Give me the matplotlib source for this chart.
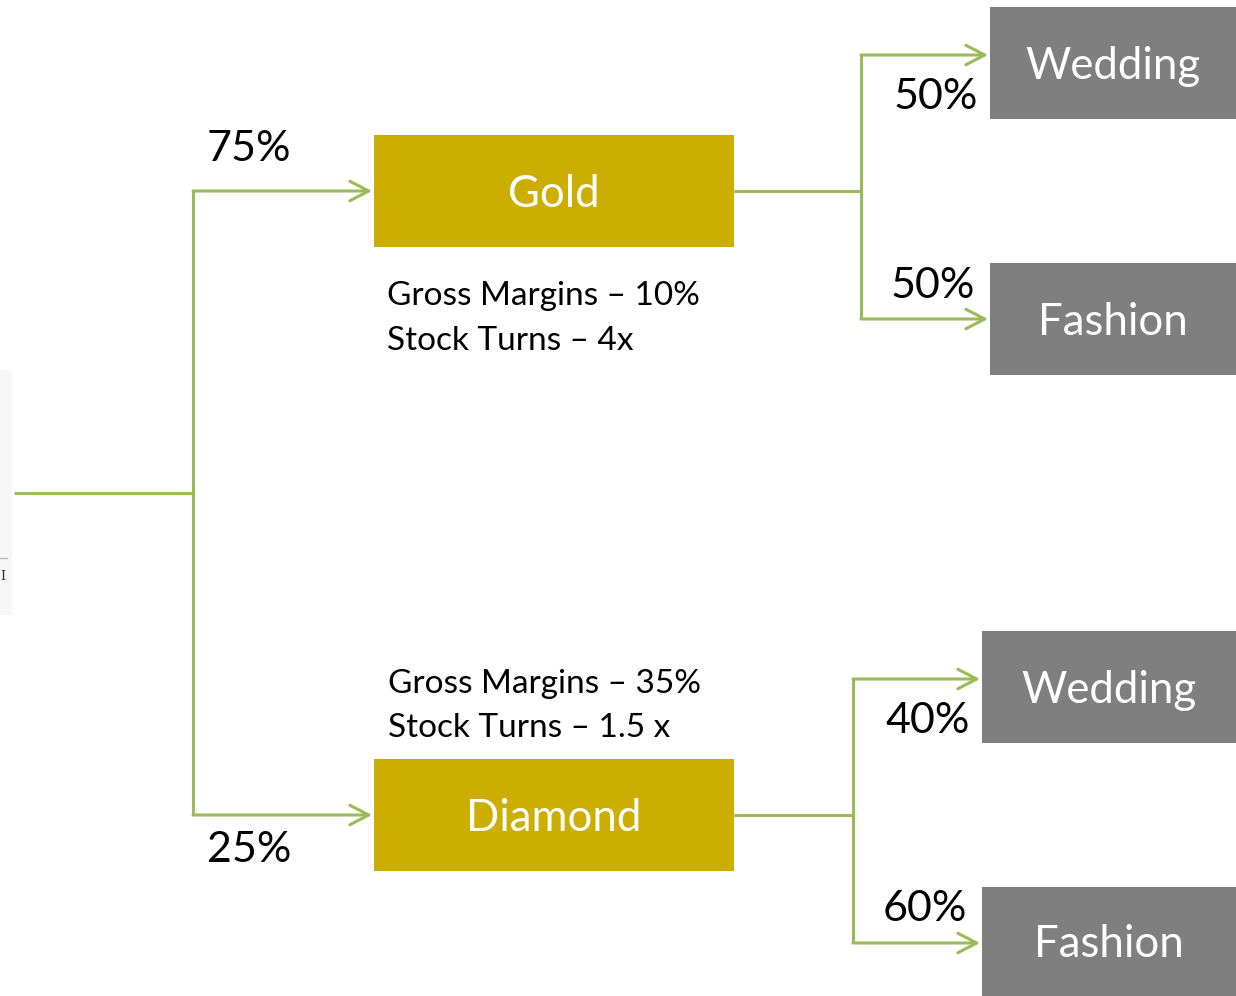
import matplotlib
matplotlib.use("Agg")
import matplotlib.pyplot as plt
from matplotlib.patches import Rectangle

plt.rcParams['font.family'] = ['Lato', 'DejaVu Sans']

GREEN = '#9BBB59'
GOLD = '#CCAE00'
GREY = '#7F7F7F'

# Boxes: (label, x0, y0, x1, y1, color)
box_labels = ['Gold', 'Diamond', 'Wedding', 'Fashion', 'Wedding', 'Fashion']
box_x0 = [374, 374, 990, 990, 982, 982]
box_y0 = [135, 759, 7, 263, 631, 887]
box_x1 = [734, 734, 1236, 1236, 1236, 1236]
box_y1 = [247, 871, 119, 375, 743, 996]
box_colors = [GOLD, GOLD, GREY, GREY, GREY, GREY]

# Percentage labels
pct_labels = ['75%', '25%', '50%', '50%', '40%', '60%']
pct_x = [249, 249, 936, 933, 928, 925]
pct_y = [149, 850, 97, 286, 721, 909]

# Notes
note_lines = ['Gross Margins – 10%', 'Stock Turns – 4x',
              'Gross Margins – 35%', 'Stock Turns – 1.5 x']
note_x = [387, 387, 388, 388]
note_y = [296, 341, 684, 728]

fig = plt.figure(figsize=(12.36, 9.96), dpi=100)
ax = fig.add_axes([0, 0, 1, 1])
ax.set_xlim(0, 1236)
ax.set_ylim(996, 0)
ax.axis('off')

# faint artifact at left edge
ax.add_patch(Rectangle((0, 370), 12, 245, facecolor='#F7F7F7', edgecolor='none'))
ax.plot([0, 7], [558, 558], color='#BBBBBB', lw=1)
ax.text(3, 576, 'I', fontsize=9, family='DejaVu Serif', ha='center', va='center', color='#333333')

lw = 2.2
# connector lines (plain segments)
segments = [
    ((14, 493), (193, 493)),
    ((193, 191), (193, 815)),
    ((734, 191), (861, 191)),
    ((861, 55), (861, 319)),
    ((734, 815), (853, 815)),
    ((853, 679), (853, 943)),
]
for (a, b) in segments:
    ax.plot([a[0], b[0]], [a[1], b[1]], color=GREEN, lw=lw, solid_capstyle='butt')

# arrows: (x_start, x_end, y)
arrows = [(193, 372, 191), (193, 372, 815), (861, 988, 55), (861, 988, 319),
          (853, 980, 679), (853, 980, 943)]
for xs, xe, y in arrows:
    ax.annotate('', xy=(xe, y), xytext=(xs, y),
                arrowprops=dict(arrowstyle='->,head_length=1.35,head_width=0.7',
                                color=GREEN, lw=lw, shrinkA=0, shrinkB=0))

for lab, x0, y0, x1, y1, c in zip(box_labels, box_x0, box_y0, box_x1, box_y1, box_colors):
    ax.add_patch(Rectangle((x0, y0), x1 - x0, y1 - y0, facecolor=c, edgecolor='none'))
    ax.text((x0 + x1) / 2, (y0 + min(y1, 1000)) / 2 + 3, lab, color='white', fontsize=31.5,
            ha='center', va='center')

for lab, x, y in zip(pct_labels, pct_x, pct_y):
    ax.text(x, y, lab, fontsize=31, ha='center', va='center', color='black')

for lab, x, y in zip(note_lines, note_x, note_y):
    ax.text(x, y, lab, fontsize=24, ha='left', va='center', color='black')

fig.savefig('out.png', dpi=100)
